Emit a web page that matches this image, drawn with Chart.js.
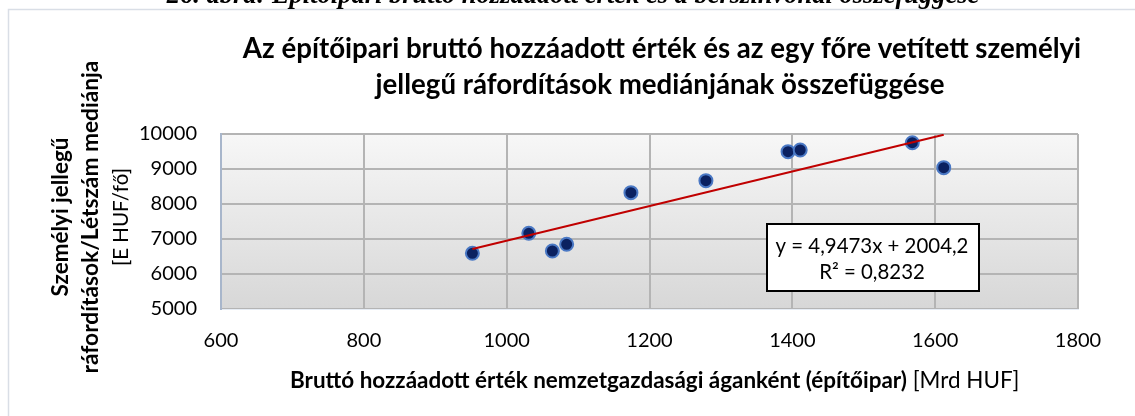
<!DOCTYPE html>
<html>
<head>
<meta charset="utf-8">
<script src="https://cdn.jsdelivr.net/npm/chart.js@4.4.0/dist/chart.umd.min.js"></script>
<style>
  html, body { margin: 0; padding: 0; background: #ffffff; }
  #wrap { width: 1135px; height: 416px; position: relative; }
</style>
</head>
<body>
<div id="wrap"><canvas id="c" width="1135" height="416"></canvas></div>
<script>
// ---- data ----
const xValues = [952, 1031, 1064, 1084, 1174, 1279, 1394, 1411, 1568, 1612];
const yValues = [6591, 7163, 6657, 6848, 8324, 8667, 9495, 9543, 9752, 9038];
const trendX = [952, 1612];
const trendY = [6714, 9979];
const xTicks = [600, 800, 1000, 1200, 1400, 1600, 1800];
const yTicks = [5000, 6000, 7000, 8000, 9000, 10000];

const captionText = "26. ábra: Építőipari bruttó hozzáadott érték és a bérszínvonal összefüggése";
const titleLines = ["Az építőipari bruttó hozzáadott érték és az egy főre vetített személyi",
                    "jellegű ráfordítások mediánjának összefüggése"];
const yTitleLines = ["Személyi jellegű", "ráfordítások/Létszám mediánja", "[E HUF/fő]"];
const xTitleBold = "Bruttó hozzáadott érték nemzetgazdasági áganként (építőipar)";
const xTitleNormal = " [Mrd HUF]";
const equationLines = ["y = 4,9473x + 2004,2", "R² = 0,8232"];

const FAMILY = "Lato, 'Liberation Sans', sans-serif";

function fitSize(ctx, text, style, weight, family, targetW) {
  ctx.font = style + " " + weight + " 100px " + family;
  const w = ctx.measureText(text).width;
  return 100 * targetW / w;
}

const decorPlugin = {
  id: 'decor',
  beforeDraw(chart) {
    const ctx = chart.ctx;
    const a = chart.chartArea;
    ctx.save();
    ctx.strokeStyle = '#d9dee6';
    ctx.lineWidth = 1.5;
    ctx.beginPath();
    ctx.moveTo(8.5, 420);
    ctx.lineTo(8.5, 9.5);
    ctx.lineTo(1140, 9.5);
    ctx.stroke();
    const g = ctx.createLinearGradient(0, a.top, 0, a.bottom);
    g.addColorStop(0, '#f7f7f7');
    g.addColorStop(1, '#d7d7d7');
    ctx.fillStyle = g;
    ctx.fillRect(a.left, a.top, a.right - a.left, a.bottom - a.top);
    ctx.restore();
  },
  afterDraw(chart) {
    const ctx = chart.ctx;
    ctx.save();
    ctx.fillStyle = '#000000';
    let s = fitSize(ctx, captionText, 'italic', 'bold', "'Liberation Serif', serif", 813);
    ctx.font = "italic bold " + s + "px 'Liberation Serif', serif";
    ctx.textAlign = 'center';
    ctx.textBaseline = 'alphabetic';
    ctx.fillText(captionText, 573, 3);

    s = fitSize(ctx, titleLines[0], 'normal', 'bold', FAMILY, 839);
    ctx.font = "bold " + s + "px " + FAMILY;
    ctx.fillText(titleLines[0], 662, 58);
    ctx.fillText(titleLines[1], 660, 94);

    const yCenters = [61, 91, 121];
    const yLens = [159, 313, 98];
    for (let i = 0; i < 3; i++) {
      const weight = i < 2 ? 'bold' : 'normal';
      const fs = fitSize(ctx, yTitleLines[i], 'normal', weight, FAMILY, yLens[i]);
      ctx.save();
      ctx.translate(yCenters[i], 217);
      ctx.rotate(-Math.PI / 2);
      ctx.font = weight + " " + fs + "px " + FAMILY;
      ctx.textAlign = 'center';
      ctx.textBaseline = 'middle';
      ctx.fillText(yTitleLines[i], 0, 0);
      ctx.restore();
    }

    ctx.font = "bold 100px " + FAMILY;
    const wb = ctx.measureText(xTitleBold).width;
    ctx.font = "normal 100px " + FAMILY;
    const wn = ctx.measureText(xTitleNormal).width;
    const xs = 100 * 730 / (wb + wn);
    const startX = 290;
    ctx.textAlign = 'left';
    ctx.textBaseline = 'middle';
    ctx.font = "bold " + xs + "px " + FAMILY;
    ctx.fillText(xTitleBold, startX, 381);
    const wb2 = ctx.measureText(xTitleBold).width;
    ctx.font = "normal " + xs + "px " + FAMILY;
    ctx.fillText(xTitleNormal, startX + wb2, 381);

    ctx.fillStyle = '#ffffff';
    ctx.fillRect(767, 224, 212, 67);
    ctx.strokeStyle = '#000000';
    ctx.lineWidth = 2;
    ctx.strokeRect(767, 224, 212, 67);
    ctx.fillStyle = '#000000';
    s = fitSize(ctx, equationLines[0], 'normal', 'normal', FAMILY, 193);
    ctx.font = "normal " + s + "px " + FAMILY;
    ctx.textAlign = 'center';
    ctx.textBaseline = 'middle';
    ctx.fillText(equationLines[0], 872, 246);
    ctx.fillText(equationLines[1], 872, 272);
    ctx.restore();
  }
};

const scatterData = xValues.map((x, i) => ({ x: x, y: yValues[i] }));
const trendData = trendX.map((x, i) => ({ x: x, y: trendY[i] }));

new Chart(document.getElementById('c'), {
  type: 'scatter',
  data: {
    datasets: [
      {
        label: 'data',
        data: scatterData,
        backgroundColor: '#0b2160',
        borderColor: '#4a78c4',
        borderWidth: 2,
        pointRadius: 6.5,
        pointHoverRadius: 6.5,
        order: 1
      },
      {
        label: 'trend',
        type: 'line',
        data: trendData,
        borderColor: '#c00000',
        borderWidth: 2,
        pointRadius: 0,
        fill: false,
        order: 0
      }
    ]
  },
  options: {
    responsive: false,
    animation: false,
    events: [],
    layout: { padding: { left: 0, top: 134, right: 57, bottom: 0 } },
    plugins: {
      legend: { display: false },
      title: { display: false },
      tooltip: { enabled: false }
    },
    scales: {
      x: {
        type: 'linear',
        min: 600, max: 1800,
        afterBuildTicks(scale) { scale.ticks = xTicks.map(v => ({ value: v })); },
        afterFit(scale) { scale.height = 107; },
        grid: { color: '#b4b4b4', lineWidth: 2, drawTicks: false },
        border: { display: true, color: '#e6ecf4', width: 1 },
        ticks: { color: '#000000', font: { family: FAMILY, size: 20 }, padding: 20, maxRotation: 0,
                 callback: v => String(v) }
      },
      y: {
        type: 'linear',
        min: 5000, max: 10000,
        afterBuildTicks(scale) { scale.ticks = yTicks.map(v => ({ value: v })); },
        afterFit(scale) { scale.width = 221; },
        grid: { color: '#b4b4b4', lineWidth: 2, drawTicks: false },
        border: { display: true, color: '#a8b6cb', width: 2 },
        ticks: { color: '#000000', font: { family: FAMILY, size: 20 }, padding: 24,
                 callback: v => String(v) }
      }
    }
  },
  plugins: [decorPlugin]
});
</script>
</body>
</html>
